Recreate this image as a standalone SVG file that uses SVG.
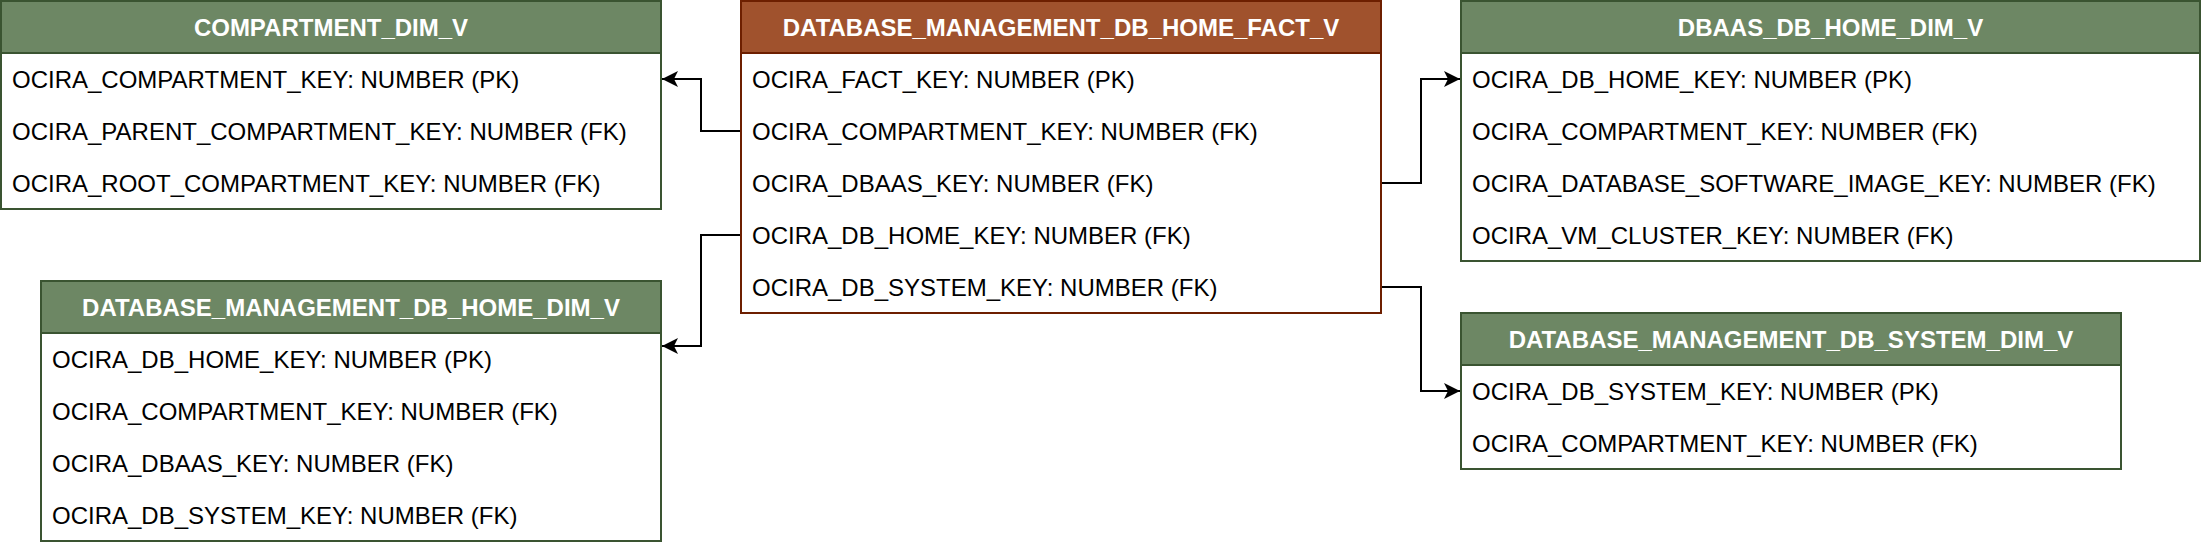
<svg xmlns="http://www.w3.org/2000/svg" width="2202" height="548" viewBox="0 0 2202 548">
<style>
text{font-family:"Liberation Sans",Arial,Helvetica,sans-serif;font-size:24px}
.hd{fill:#ffffff;font-weight:bold;text-anchor:middle}
.row{fill:#000000}
.body{fill:#ffffff;stroke-width:2}
.g .body,.g .head{stroke:#3A5431}
.g .head{fill:#6D8764;stroke-width:2}
.f .body,.f .head{stroke:#6D1F00}
.f .head{fill:#A0522D;stroke-width:2}
.edge{fill:none;stroke:#000000;stroke-width:2;marker-end:url(#arrow)}
</style>
<defs>
<marker id="arrow" viewBox="0 0 16 16" refX="16" refY="8" markerWidth="16" markerHeight="16" markerUnits="userSpaceOnUse" orient="auto">
<path d="M16,8 L0,0 L4,8 L0,16 Z" fill="#000000"/>
</marker>
</defs>
<rect width="2202" height="548" fill="#ffffff"/>
<g id="connectors">
<path class="edge" d="M741,131 H701 V79 H662"/>
<path class="edge" d="M741,235 H701 V346 H662"/>
<path class="edge" d="M1381,183 H1421 V79 H1460"/>
<path class="edge" d="M1381,287 H1421 V391 H1460"/>
</g>
<g id="compartment_dim_v" class="g">
<rect class="body" x="1" y="1" width="660" height="208"/>
<rect class="head" x="1" y="1" width="660" height="52"/>
<text class="hd" x="331" y="35.5">COMPARTMENT_DIM_V</text>
<text class="row" x="12" y="87.5">OCIRA_COMPARTMENT_KEY: NUMBER (PK)</text>
<text class="row" x="12" y="139.5">OCIRA_PARENT_COMPARTMENT_KEY: NUMBER (FK)</text>
<text class="row" x="12" y="191.5">OCIRA_ROOT_COMPARTMENT_KEY: NUMBER (FK)</text>
</g>
<g id="database_management_db_home_fact_v" class="f">
<rect class="body" x="741" y="1" width="640" height="312"/>
<rect class="head" x="741" y="1" width="640" height="52"/>
<text class="hd" x="1061" y="35.5">DATABASE_MANAGEMENT_DB_HOME_FACT_V</text>
<text class="row" x="752" y="87.5">OCIRA_FACT_KEY: NUMBER (PK)</text>
<text class="row" x="752" y="139.5">OCIRA_COMPARTMENT_KEY: NUMBER (FK)</text>
<text class="row" x="752" y="191.5">OCIRA_DBAAS_KEY: NUMBER (FK)</text>
<text class="row" x="752" y="243.5">OCIRA_DB_HOME_KEY: NUMBER (FK)</text>
<text class="row" x="752" y="295.5">OCIRA_DB_SYSTEM_KEY: NUMBER (FK)</text>
</g>
<g id="dbaas_db_home_dim_v" class="g">
<rect class="body" x="1461" y="1" width="739" height="260"/>
<rect class="head" x="1461" y="1" width="739" height="52"/>
<text class="hd" x="1830.5" y="35.5">DBAAS_DB_HOME_DIM_V</text>
<text class="row" x="1472" y="87.5">OCIRA_DB_HOME_KEY: NUMBER (PK)</text>
<text class="row" x="1472" y="139.5">OCIRA_COMPARTMENT_KEY: NUMBER (FK)</text>
<text class="row" x="1472" y="191.5">OCIRA_DATABASE_SOFTWARE_IMAGE_KEY: NUMBER (FK)</text>
<text class="row" x="1472" y="243.5">OCIRA_VM_CLUSTER_KEY: NUMBER (FK)</text>
</g>
<g id="database_management_db_home_dim_v" class="g">
<rect class="body" x="41" y="281" width="620" height="260"/>
<rect class="head" x="41" y="281" width="620" height="52"/>
<text class="hd" x="351" y="315.5">DATABASE_MANAGEMENT_DB_HOME_DIM_V</text>
<text class="row" x="52" y="367.5">OCIRA_DB_HOME_KEY: NUMBER (PK)</text>
<text class="row" x="52" y="419.5">OCIRA_COMPARTMENT_KEY: NUMBER (FK)</text>
<text class="row" x="52" y="471.5">OCIRA_DBAAS_KEY: NUMBER (FK)</text>
<text class="row" x="52" y="523.5">OCIRA_DB_SYSTEM_KEY: NUMBER (FK)</text>
</g>
<g id="database_management_db_system_dim_v" class="g">
<rect class="body" x="1461" y="313" width="660" height="156"/>
<rect class="head" x="1461" y="313" width="660" height="52"/>
<text class="hd" x="1791" y="347.5">DATABASE_MANAGEMENT_DB_SYSTEM_DIM_V</text>
<text class="row" x="1472" y="399.5">OCIRA_DB_SYSTEM_KEY: NUMBER (PK)</text>
<text class="row" x="1472" y="451.5">OCIRA_COMPARTMENT_KEY: NUMBER (FK)</text>
</g>
</svg>
